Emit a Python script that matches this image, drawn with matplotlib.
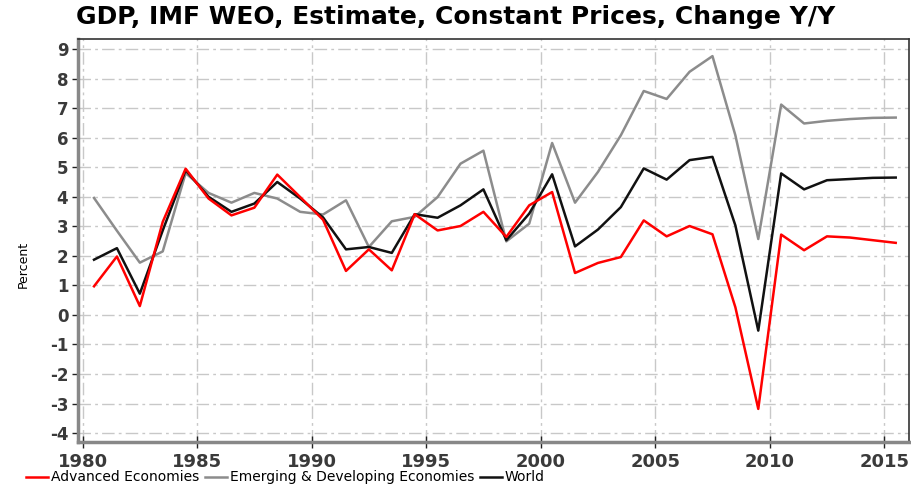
import numpy as np
import matplotlib
matplotlib.use("Agg")
from matplotlib import pyplot as plt

# annual growth, % (plotted at mid-year)
years = np.arange(1980, 2016)

advanced = [0.97, 1.98, 0.30, 3.15, 4.95, 3.94, 3.37, 3.63, 4.75, 3.99,
            3.22, 1.49, 2.22, 1.51, 3.41, 2.86, 3.01, 3.49, 2.64, 3.71,
            4.16, 1.42, 1.76, 1.96, 3.20, 2.66, 3.01, 2.73, 0.26, -3.18,
            2.72, 2.19, 2.66, 2.62, 2.53, 2.44]
emerging = [3.96, 2.85, 1.77, 2.15, 4.80, 4.13, 3.80, 4.13, 3.94, 3.49,
            3.40, 3.88, 2.30, 3.17, 3.32, 3.99, 5.12, 5.56, 2.49, 3.09,
            5.82, 3.80, 4.84, 6.08, 7.58, 7.31, 8.23, 8.76, 6.08, 2.57,
            7.12, 6.48, 6.57, 6.63, 6.67, 6.68]
world = [1.87, 2.26, 0.72, 2.86, 4.90, 4.00, 3.49, 3.77, 4.50, 3.94,
         3.30, 2.22, 2.30, 2.10, 3.41, 3.29, 3.71, 4.25, 2.53, 3.43,
         4.76, 2.32, 2.89, 3.65, 4.96, 4.58, 5.24, 5.35, 3.03, -0.53,
         4.79, 4.25, 4.56, 4.60, 4.64, 4.65]

plt.rcParams["axes.unicode_minus"] = False

x = years + 0.5

fig = plt.figure(figsize=(9.11, 4.91), dpi=100)
ax = fig.add_axes([0.0856, 0.0998, 0.9122, 0.8208])

ax.plot(x, emerging, color="#8c8c8c", lw=1.8, label="Emerging & Developing Economies", zorder=3)
ax.plot(x, world, color="#111111", lw=1.8, label="World", zorder=4)
ax.plot(x, advanced, color="#ff0000", lw=1.8, label="Advanced Economies", zorder=5)

ax.set_xlim(1979.8, 2016.08)
ax.set_ylim(-4.3, 9.34)
ax.set_xticks(np.arange(1980, 2016, 5))
ax.set_yticks(np.arange(-4, 10, 1))
ax.grid(True, color="#c8c8c8", lw=1, linestyle=(0, (9, 3, 2, 3)))
ax.set_axisbelow(True)

for s in ["left", "bottom"]:
    ax.spines[s].set_color("#888888")
    ax.spines[s].set_linewidth(2.5)
for s in ["top", "right"]:
    ax.spines[s].set_color("#333333")
    ax.spines[s].set_linewidth(1.2)

ax.tick_params(axis="y", direction="out", length=4, width=1, labelsize=12, colors="#222222", pad=3)
ax.tick_params(axis="x", direction="inout", length=8, width=1, labelsize=13, colors="#222222", pad=4)
for lab in ax.get_xticklabels() + ax.get_yticklabels():
    lab.set_fontweight("bold")
    lab.set_color("#3a3a3a")

ax.set_ylabel("Percent", fontsize=9)
ax.yaxis.set_label_coords(-0.058, 0.44)

fig.suptitle("GDP, IMF WEO, Estimate, Constant Prices, Change Y/Y",
             fontsize=18, fontweight="bold", x=0.5, y=0.99, va="top")

handles, labels = ax.get_legend_handles_labels()
order = [2, 0, 1]
fig.legend([handles[i] for i in order], [labels[i] for i in order],
           loc="lower left", bbox_to_anchor=(0.015, -0.012), ncol=3, frameon=False,
           handlelength=1.6, handletextpad=0.2, columnspacing=0.4,
           prop={"size": 10})

fig.savefig("out.png", dpi=100)
